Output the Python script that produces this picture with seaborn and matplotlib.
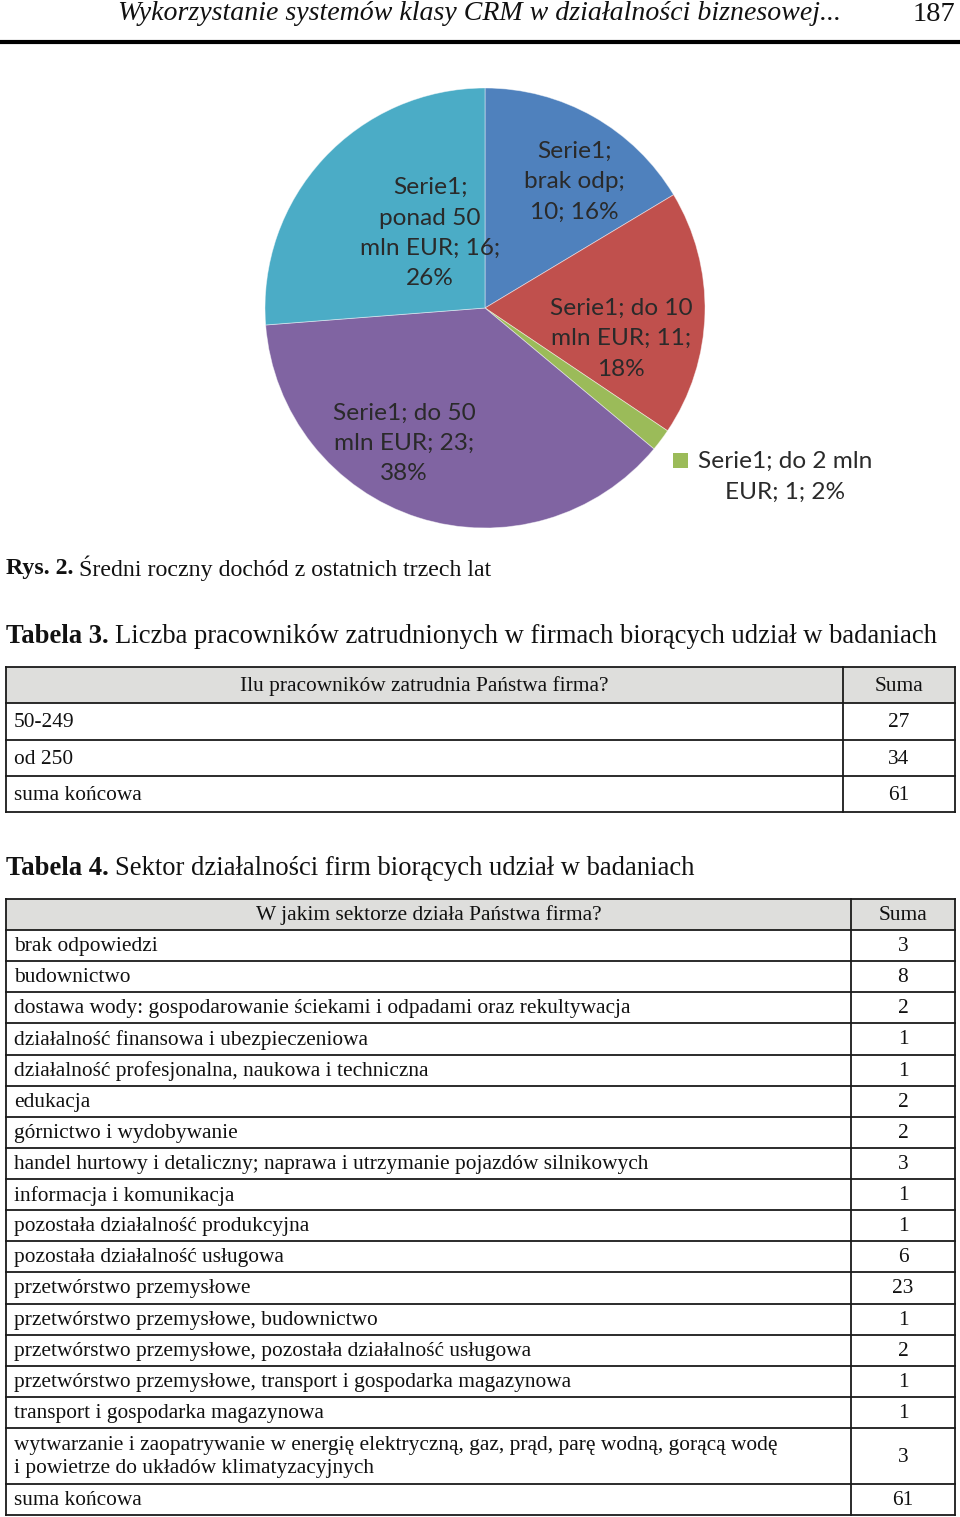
import matplotlib
matplotlib.use("Agg")
import matplotlib.pyplot as plt
import seaborn as sns
from matplotlib.patches import Rectangle

# ---------------- data ----------------
pie_categories = ["brak odp", "do 10 mln EUR", "do 2 mln EUR", "do 50 mln EUR", "ponad 50 mln EUR"]
pie_values = [10, 11, 1, 23, 16]
pie_colors = ["#4F81BD", "#C0504D", "#9BBB59", "#8064A2", "#4BACC6"]
series_name = "Serie1"

header_title = "Wykorzystanie systemów klasy CRM w działalności biznesowej..."
page_number = "187"
fig_caption_bold = "Rys. 2."
fig_caption = "Średni roczny dochód z ostatnich trzech lat"

t3_bold = "Tabela 3."
t3_title = "Liczba pracowników zatrudnionych w firmach biorących udział w badaniach"
t3_header = "Ilu pracowników zatrudnia Państwa firma?"
t3_labels = ["50-249", "od 250", "suma końcowa"]
t3_values = [27, 34, 61]

t4_bold = "Tabela 4."
t4_title = "Sektor działalności firm biorących udział w badaniach"
t4_header = "W jakim sektorze działa Państwa firma?"
t4_labels = [
    "brak odpowiedzi",
    "budownictwo",
    "dostawa wody: gospodarowanie ściekami i odpadami oraz rekultywacja",
    "działalność finansowa i ubezpieczeniowa",
    "działalność profesjonalna, naukowa i techniczna",
    "edukacja",
    "górnictwo i wydobywanie",
    "handel hurtowy i detaliczny; naprawa i utrzymanie pojazdów silnikowych",
    "informacja i komunikacja",
    "pozostała działalność produkcyjna",
    "pozostała działalność usługowa",
    "przetwórstwo przemysłowe",
    "przetwórstwo przemysłowe, budownictwo",
    "przetwórstwo przemysłowe, pozostała działalność usługowa",
    "przetwórstwo przemysłowe, transport i gospodarka magazynowa",
    "transport i gospodarka magazynowa",
    "wytwarzanie i zaopatrywanie w energię elektryczną, gaz, prąd, parę wodną, gorącą wodę\ni powietrze do układów klimatyzacyjnych",
    "suma końcowa",
]
t4_values = [3, 8, 2, 1, 1, 2, 2, 3, 1, 1, 6, 23, 1, 2, 1, 1, 3, 61]
suma_label = "Suma"

# ---------------- style ----------------
sns.set_theme(style="white")
plt.rcParams["font.family"] = ["Liberation Serif", "DejaVu Serif"]

W, H = 960, 1517
fig = plt.figure(figsize=(W / 100, H / 100), dpi=100)
fig.patch.set_facecolor("white")
page = fig.add_axes([0, 0, 1, 1])
page.set_xlim(0, W)
page.set_ylim(H, 0)
page.axis("off")
renderer = fig.canvas.get_renderer()

SERIF = ["Liberation Serif", "DejaVu Serif"]
SANS = ["Lato", "DejaVu Sans"]
INK = "#111111"
LINE = "#1a1a1a"
PIE_TXT = "#2a2a2a"

# header
page.text(479, 13, header_title, ha="center", va="center", fontsize=20.1,
          style="italic", family=SERIF, color=INK)
page.text(955, 14, page_number, ha="right", va="center", fontsize=20.5, family=SERIF, color=INK)
page.plot([0, W], [42, 42], color="#000000", lw=3, solid_capstyle="butt")


def two_part(x, y, bold, normal, size):
    t1 = page.text(x, y, bold, ha="left", va="center", fontsize=size,
                   fontweight="bold", family=SERIF, color=INK)
    bb = t1.get_window_extent(renderer)
    page.text(bb.x1 + size * 0.35, y, normal, ha="left", va="center",
              fontsize=size, family=SERIF, color=INK)


# ---------------- pie ----------------
cx, cy, R = 485, 308, 220
pie_ax = fig.add_axes([(cx - R) / W, 1 - (cy + R) / H, 2 * R / W, 2 * R / H])
pie_ax.pie(pie_values, colors=pie_colors, startangle=90, counterclock=False,
           radius=1, wedgeprops=dict(edgecolor=(1, 1, 1, 0.5), linewidth=0.6))
pie_ax.set_xlim(-1, 1)
pie_ax.set_ylim(-1, 1)
pie_ax.set_aspect("auto")
pie_ax.axis("off")

total = sum(pie_values)
pcts = [round(v / total * 100) for v in pie_values]
label_text = [
    f"{series_name};\nbrak odp;\n{pie_values[0]}; {pcts[0]}%",
    f"{series_name}; do 10\nmln EUR; {pie_values[1]};\n{pcts[1]}%",
    f"{series_name}; do 2 mln\nEUR; {pie_values[2]}; {pcts[2]}%",
    f"{series_name}; do 50\nmln EUR; {pie_values[3]};\n{pcts[3]}%",
    f"{series_name};\nponad 50\nmln EUR; {pie_values[4]};\n{pcts[4]}%",
]
PIE_FS = 17.6
PIE_LS = 1.55
# label anchor positions (pie units)
label_pos = [(0.405, 0.575), (0.618, -0.14), None, (-0.368, -0.615), (-0.25, 0.34)]
for txt, pos in zip(label_text, label_pos):
    if pos is None:
        continue
    pie_ax.text(pos[0], pos[1], txt, ha="center", va="center", multialignment="center",
                fontsize=PIE_FS, family=SANS, color=PIE_TXT, linespacing=PIE_LS)

# outside label with legend key for the tiny slice
page.add_patch(Rectangle((673, 453), 15, 15, color=pie_colors[2], lw=0))
page.text(785, 477, label_text[2], ha="center", va="center", multialignment="center",
          fontsize=PIE_FS, family=SANS, color=PIE_TXT, linespacing=PIE_LS)

# captions
two_part(6, 568, fig_caption_bold, fig_caption, 17.2)
two_part(6, 636, t3_bold, t3_title, 19.2)
two_part(6, 868, t4_bold, t4_title, 19.2)

HEAD_FILL = "#DEDEDC"
TXT = 15.4


def draw_table(x0, x1, xdiv, ys, header, labels, values):
    page.add_patch(Rectangle((x0, ys[0]), x1 - x0, ys[1] - ys[0], facecolor=HEAD_FILL,
                             edgecolor="none"))
    for y in ys:
        page.plot([x0, x1], [y, y], color=LINE, lw=1.3, solid_capstyle="projecting")
    for x in (x0, x1, xdiv):
        page.plot([x, x], [ys[0], ys[-1]], color=LINE, lw=1.3, solid_capstyle="projecting")
    page.text((x0 + xdiv) / 2, (ys[0] + ys[1]) / 2 + 1, header, ha="center", va="center",
              fontsize=TXT, family=SERIF, color=INK)
    page.text((xdiv + x1) / 2, (ys[0] + ys[1]) / 2 + 1, suma_label, ha="center", va="center",
              fontsize=TXT, family=SERIF, color=INK)
    for i, (lab, val) in enumerate(zip(labels, values)):
        ym = (ys[i + 1] + ys[i + 2]) / 2 + 1
        page.text(x0 + 8, ym, lab, ha="left", va="center", fontsize=TXT, family=SERIF,
                  color=INK, linespacing=1.3)
        page.text((xdiv + x1) / 2, ym, str(val), ha="center", va="center", fontsize=TXT,
                  family=SERIF, color=INK)


# table 3
t3_ys = [667, 703, 740, 776, 812]
draw_table(6, 955, 843, t3_ys, t3_header, t3_labels, t3_values)

# table 4
t4_ys = [899, 930]
step = (1428 - 930) / 16
for i in range(16):
    t4_ys.append(930 + step * (i + 1))
t4_ys += [1484, 1515]
draw_table(6, 955, 851, t4_ys, t4_header, t4_labels, t4_values)

fig.savefig("out.png", dpi=100, facecolor="white")
